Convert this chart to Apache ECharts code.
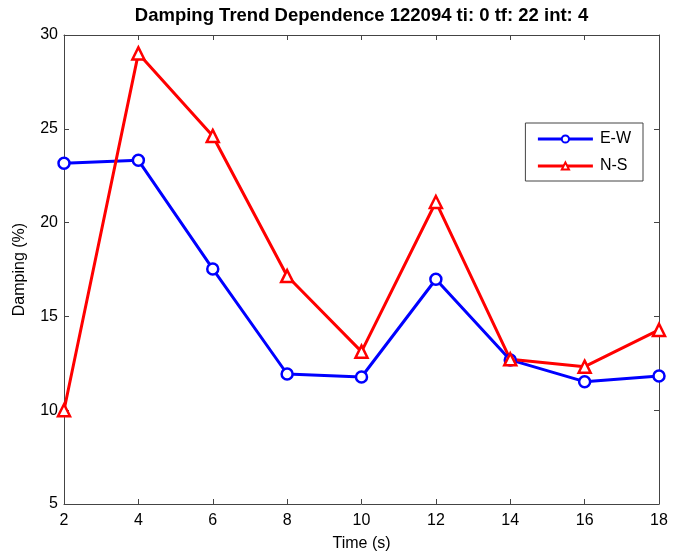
<!DOCTYPE html>
<html>
<head>
<meta charset="utf-8">
<script src="https://cdn.jsdelivr.net/npm/echarts@6/dist/echarts.min.js"></script>
<style>
  html, body { margin: 0; padding: 0; background: #fff; }
  #chart { width: 673px; height: 558px; }
</style>
</head>
<body>
<div id="chart"></div>
<script>
// Time samples (s)
const times = [2, 4, 6, 8, 10, 12, 14, 16, 18];
// Damping (%) per component
const dampingEW = [23.16, 23.32, 17.53, 11.93, 11.77, 16.98, 12.68, 11.52, 11.82];
const dampingNS = [10.0, 29.02, 24.62, 17.15, 13.12, 21.1, 12.71, 12.32, 14.28];

const chartTitle = 'Damping Trend Dependence 122094 ti: 0 tf: 22 int: 4';
const font = 'Liberation Sans, Arial, sans-serif';

const pairs = (xs, ys) => xs.map((x, i) => [x, ys[i]]);

const chart = echarts.init(document.getElementById('chart'));

const gridLeft = 64, gridRight = 14;
const axisLineStyle = { color: '#444', width: 1 };
const tickStyle = { show: true, inside: true, length: 5, lineStyle: { color: '#444' } };

chart.setOption({
  animation: false,
  backgroundColor: '#fff',
  // title centred over the plot box
  graphic: [{
    type: 'text',
    x: gridLeft + (673 - gridLeft - gridRight) / 2,
    y: 6,
    style: {
      text: chartTitle,
      align: 'center',
      verticalAlign: 'top',
      fontFamily: font,
      fontSize: 18.5,
      fontWeight: 'bold',
      fill: '#000'
    }
  }],
  grid: { left: gridLeft, right: gridRight, top: 35, bottom: 54, show: false },
  legend: {
    right: 30,
    top: 123,
    orient: 'vertical',
    itemWidth: 55,
    itemHeight: 9,
    itemGap: 11,
    padding: [8, 12, 7, 11],
    borderColor: '#444',
    borderWidth: 1,
    backgroundColor: '#fff',
    lineStyle: { width: 3 },
    textStyle: { fontFamily: font, fontSize: 16, color: '#000', padding: [0, 0, 0, 2] },
    data: ['E-W', 'N-S']
  },
  xAxis: [
    {
      type: 'value', min: 2, max: 18, interval: 2,
      name: 'Time (s)', nameLocation: 'middle', nameGap: 32,
      nameTextStyle: { fontFamily: font, fontSize: 16, color: '#000' },
      axisLine: { show: true, lineStyle: axisLineStyle },
      axisTick: tickStyle,
      axisLabel: { fontFamily: font, fontSize: 16, color: '#000', margin: 9 },
      splitLine: { show: false }
    },
    {
      type: 'value', min: 2, max: 18, interval: 2, position: 'top',
      axisLine: { show: true, lineStyle: axisLineStyle },
      axisTick: tickStyle,
      axisLabel: { show: false },
      splitLine: { show: false }
    }
  ],
  yAxis: [
    {
      type: 'value', min: 5, max: 30, interval: 5,
      name: 'Damping (%)', nameLocation: 'middle', nameGap: 36,
      nameTextStyle: { fontFamily: font, fontSize: 16, color: '#000' },
      axisLine: { show: true, lineStyle: axisLineStyle },
      axisTick: tickStyle,
      axisLabel: { fontFamily: font, fontSize: 16, color: '#000', margin: 6 },
      splitLine: { show: false }
    },
    {
      type: 'value', min: 5, max: 30, interval: 5, position: 'right',
      axisLine: { show: true, lineStyle: axisLineStyle },
      axisTick: tickStyle,
      axisLabel: { show: false },
      splitLine: { show: false }
    }
  ],
  series: [
    {
      name: 'E-W',
      type: 'line',
      data: pairs(times, dampingEW),
      symbol: 'circle',
      symbolSize: 11,
      color: '#0000ff',
      lineStyle: { width: 3, color: '#0000ff' },
      itemStyle: { color: '#fff', borderColor: '#0000ff', borderWidth: 2.5 }
    },
    {
      name: 'N-S',
      type: 'line',
      data: pairs(times, dampingNS),
      symbol: 'triangle',
      symbolSize: 12,
      color: '#ff0000',
      lineStyle: { width: 3, color: '#ff0000' },
      itemStyle: { color: '#fff', borderColor: '#ff0000', borderWidth: 2.5 }
    }
  ]
});
</script>
</body>
</html>
